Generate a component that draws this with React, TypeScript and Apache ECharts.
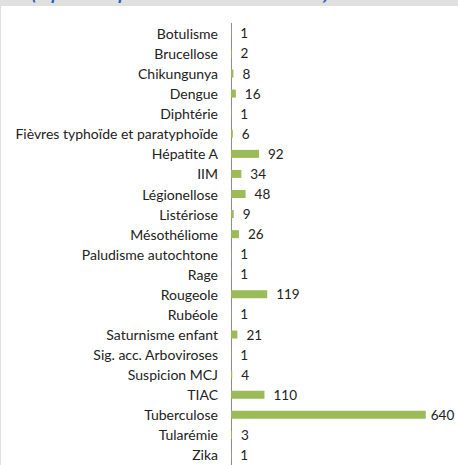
import React, { useEffect, useRef } from "react";
import * as echarts from "echarts";

const categories = [
  "Botulisme",
  "Brucellose",
  "Chikungunya",
  "Dengue",
  "Diphtérie",
  "Fièvres typhoïde et paratyphoïde",
  "Hépatite A",
  "IIM",
  "Légionellose",
  "Listériose",
  "Mésothéliome",
  "Paludisme autochtone",
  "Rage",
  "Rougeole",
  "Rubéole",
  "Saturnisme enfant",
  "Sig. acc. Arboviroses",
  "Suspicion MCJ",
  "TIAC",
  "Tuberculose",
  "Tularémie",
  "Zika",
];

const values = [1, 2, 8, 16, 1, 6, 92, 34, 48, 9, 26, 1, 1, 119, 1, 21, 1, 4, 110, 640, 3, 1];

const titleText = "(répartition par maladie des cas déclarés)";

export default function App() {
  const ref = useRef<HTMLDivElement>(null);
  useEffect(() => {
    if (!ref.current) return;
    const chart = echarts.init(ref.current, null, { renderer: "svg" });
    const n = categories.length;
    const band = 21.25;
    const top = 34 - band / 2;
    const maxVal = Math.max(...values);
    const seriesData = values.map((v) =>
      v === maxVal ? { value: v, label: { distance: 5 } } : v
    );
    chart.setOption({
      animation: false,
      backgroundColor: "#ffffff",
      graphic: [
        { type: "rect", left: 0, top: 0, shape: { width: 458, height: 6 }, style: { fill: "#e0e0e0" }, z: 10 },
        { type: "rect", left: 0, top: 0, shape: { width: 1, height: 465 }, style: { fill: "#e0e0e0" }, z: 10 },
        {
          type: "text",
          x: 32,
          y: -14,
          z: 11,
          style: {
            text: titleText,
            fill: "#1f5fbf",
            font: "italic bold 15px 'Open Sans'",
          },
        },
      ],
      grid: { left: 231, top: top, width: 213, height: band * n, containLabel: false },
      xAxis: {
        type: "value",
        min: 0,
        max: 700,
        show: false,
      },
      yAxis: {
        type: "category",
        data: categories,
        inverse: true,
        axisLine: { show: true, lineStyle: { color: "#8c8c8c", width: 1 } },
        axisTick: { show: false },
        axisLabel: { margin: 13, fontSize: 14, fontFamily: "Lato", color: "#222222" },
        splitLine: { show: false },
      },
      series: [
        {
          type: "bar",
          data: seriesData,
          barWidth: 8,
          itemStyle: { color: "#9bbb59" },
          label: {
            show: true,
            position: "right",
            distance: 9,
            fontSize: 13.5,
            fontFamily: "Lato",
            color: "#222222",
          },
        },
      ],
    });
    return () => chart.dispose();
  }, []);
  return (
    <div
      ref={ref}
      style={{ position: "fixed", left: 0, top: 0, width: 458, height: 465 }}
    />
  );
}
